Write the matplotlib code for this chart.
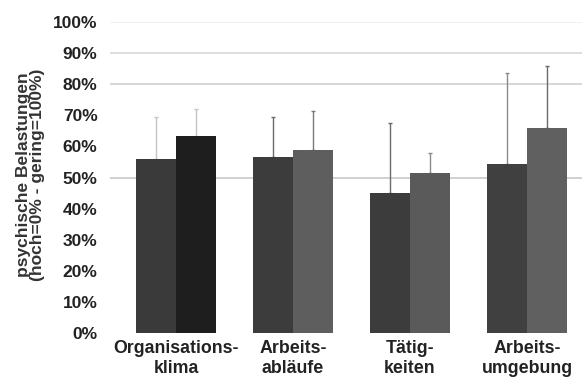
import numpy as np
import matplotlib
matplotlib.use('Agg')
import matplotlib.pyplot as plt

plt.rcParams['font.family'] = ['Liberation Sans', 'DejaVu Sans']

categories = ['Organisations-\nklima', 'Arbeits-\nabläufe', 'Tätig-\nkeiten', 'Arbeits-\numgebung']
series_a = [56, 56.5, 45, 54.5]
series_b = [63.5, 59, 51.5, 66]
err_a = [13.5, 13, 22.5, 29]
err_b = [8.5, 12.5, 6.5, 20]
colors_a = ['#3a3a3a', '#3c3c3c', '#3c3c3c', '#404040']
colors_b = ['#1e1e1e', '#5e5e5e', '#5a5a5a', '#606060']
err_colors_a = ['#c4c4c4', '#6a6a6a', '#6a6a6a', '#8a8a8a']
err_colors_b = ['#c4c4c4', '#7a7a7a', '#8a8a8a', '#6a6a6a']
yticks = np.arange(0, 101, 10)

fig = plt.figure(figsize=(5.82, 3.89), dpi=100)
ax = fig.add_axes([110 / 582, 56 / 389, 472 / 582, 311 / 389])

x = np.arange(len(categories))
w = 0.34

# faint grid lines as in the scan
for y, c in [(100, '#eeeeee'), (90, '#d8d8d8'), (80, '#d0d0d0'), (50, '#c8c8c8')]:
    ax.axhline(y, color=c, lw=1.2, zorder=0)

ax.bar(x - w / 2, series_a, w, color=colors_a, zorder=2)
ax.bar(x + w / 2, series_b, w, color=colors_b, zorder=2)

for i in range(len(categories)):
    ax.errorbar(x[i] - w / 2, series_a[i], yerr=[[0], [err_a[i]]], fmt='none',
                ecolor=err_colors_a[i], elinewidth=1, capsize=1.5, zorder=1)
    ax.errorbar(x[i] + w / 2, series_b[i], yerr=[[0], [err_b[i]]], fmt='none',
                ecolor=err_colors_b[i], elinewidth=1, capsize=1.5, zorder=1)

ax.set_xlim(-0.564, 3.47)
ax.set_ylim(0, 100)
ax.set_yticks(yticks)
ax.set_yticklabels([f'{v}%' for v in yticks], fontsize=12.5, fontweight='bold', color='#222222')
ax.set_xticks(x)
ax.set_xticklabels(categories, fontsize=12.8, fontweight='bold', color='#222222', linespacing=1.25)
ax.tick_params(length=0, axis='y', pad=9)
ax.tick_params(length=0, axis='x', pad=5)
for s in ax.spines.values():
    s.set_visible(False)

fig.text(0.052, 0.55, 'psychische Belastungen\n(hoch=0% - gering=100%)', rotation=90,
         ha='center', va='center', fontsize=12.5, fontweight='bold', color='#333333',
         linespacing=0.95)

fig.savefig('out.png', dpi=100)
